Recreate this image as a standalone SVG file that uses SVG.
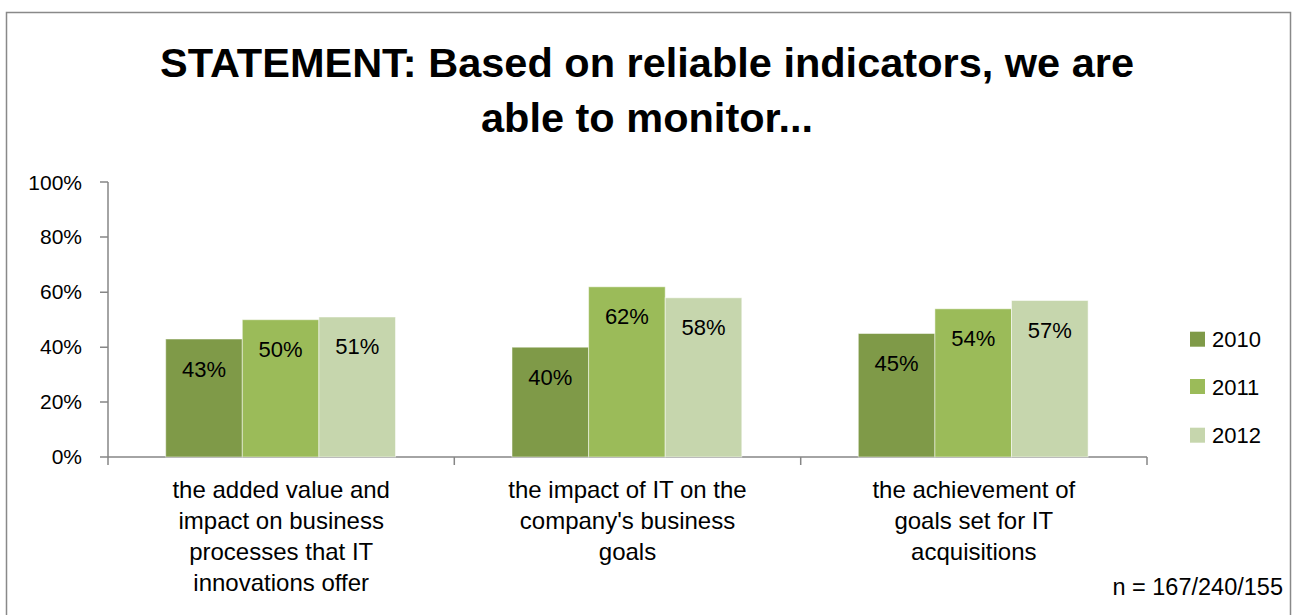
<svg xmlns="http://www.w3.org/2000/svg" width="1293" height="615" viewBox="0 0 1293 615">
<style>
text{font-family:"Liberation Sans",Arial,sans-serif;fill:#000}
.title{font-size:41.5px;font-weight:bold;text-anchor:middle}
.ax{font-size:21px;text-anchor:end}
.val{font-size:22px;text-anchor:middle}
.cat{font-size:24px;text-anchor:middle}
.leg{font-size:22px}
.axis{stroke:#868686;stroke-width:1.5;fill:none}
.b10{fill:#7F9A48}
.b11{fill:#9BBB59}
.b12{fill:#C6D6AD}
.bar{stroke:#ffffff;stroke-opacity:0.5;stroke-width:1}
</style>
<rect x="0" y="0" width="1293" height="615" fill="#ffffff"/>
<rect id="frame" x="6.5" y="12.5" width="1284" height="610" fill="#ffffff" stroke="#898989" stroke-width="1.5"/>
<g id="title">
<text class="title" x="647" y="77">STATEMENT: Based on reliable indicators, we are</text>
<text class="title" x="647" y="132">able to monitor...</text>
</g>
<g id="axes">
<path class="axis" d="M108 182V465M100 182H108M100 237H108M100 292.3H108M100 347.2H108M100 402.1H108M100 457H1147M454.3 457V465M800.7 457V465M1147 457V465"/>
<text class="ax" x="82" y="189.5">100%</text>
<text class="ax" x="82" y="244.4">80%</text>
<text class="ax" x="82" y="299.3">60%</text>
<text class="ax" x="82" y="354.2">40%</text>
<text class="ax" x="82" y="409.1">20%</text>
<text class="ax" x="82" y="464">0%</text>
</g>
<g id="group1">
<rect class="bar b10" x="165.7" y="339" width="76.6" height="118"/>
<rect class="bar b11" x="242.3" y="319.7" width="76.6" height="137.3"/>
<rect class="bar b12" x="318.9" y="317" width="76.6" height="140"/>
<text class="val" x="204" y="377">43%</text>
<text class="val" x="280.6" y="357">50%</text>
<text class="val" x="357.2" y="354">51%</text>
<text class="cat" x="281.2" y="498">the added value and</text>
<text class="cat" x="281.2" y="529">impact on business</text>
<text class="cat" x="281.2" y="560">processes that IT</text>
<text class="cat" x="281.2" y="591">innovations offer</text>
</g>
<g id="group2">
<rect class="bar b10" x="512" y="347.2" width="76.6" height="109.8"/>
<rect class="bar b11" x="588.6" y="286.8" width="76.6" height="170.2"/>
<rect class="bar b12" x="665.2" y="297.8" width="76.6" height="159.2"/>
<text class="val" x="550.3" y="385">40%</text>
<text class="val" x="626.9" y="323.5">62%</text>
<text class="val" x="703.5" y="335">58%</text>
<text class="cat" x="627.5" y="498">the impact of IT on the</text>
<text class="cat" x="627.5" y="529">company's business</text>
<text class="cat" x="627.5" y="560">goals</text>
</g>
<g id="group3">
<rect class="bar b10" x="858.3" y="333.5" width="76.6" height="123.5"/>
<rect class="bar b11" x="934.9" y="308.8" width="76.6" height="148.2"/>
<rect class="bar b12" x="1011.5" y="300.5" width="76.6" height="156.5"/>
<text class="val" x="896.6" y="370.5">45%</text>
<text class="val" x="973.2" y="346">54%</text>
<text class="val" x="1049.8" y="337.5">57%</text>
<text class="cat" x="973.8" y="498">the achievement of</text>
<text class="cat" x="973.8" y="529">goals set for IT</text>
<text class="cat" x="973.8" y="560">acquisitions</text>
</g>
<g id="legend">
<rect class="b10" x="1190" y="331.7" width="15" height="15"/>
<rect class="b11" x="1190" y="379" width="15" height="15"/>
<rect class="b12" x="1190" y="427.7" width="15" height="15"/>
<text class="leg" x="1212" y="347">2010</text>
<text class="leg" x="1212" y="394.5">2011</text>
<text class="leg" x="1212" y="442.5">2012</text>
</g>
<g id="note">
<text x="1283" y="595" font-size="23.5" text-anchor="end">n = 167/240/155</text>
</g>
</svg>
